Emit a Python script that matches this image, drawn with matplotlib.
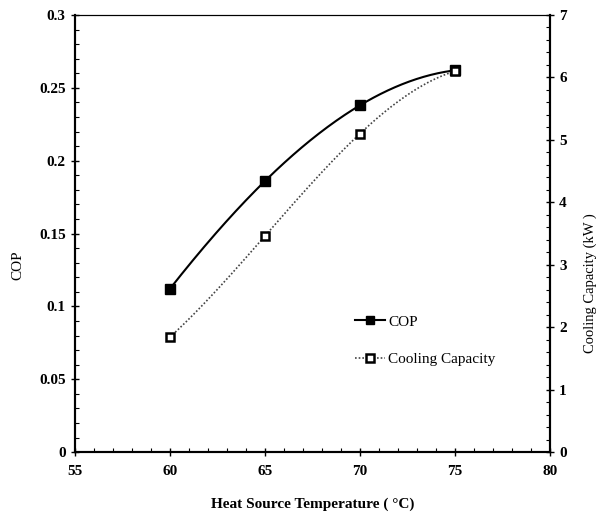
import numpy as np
import matplotlib
matplotlib.use("Agg")
import matplotlib.pyplot as plt
from matplotlib.ticker import MultipleLocator
from matplotlib.lines import Line2D

temps = [60, 65, 70, 75]
cop = [0.112, 0.186, 0.238, 0.262]
cooling = [1.84, 3.46, 5.10, 6.10]

plt.rcParams['font.family'] = ['Liberation Serif', 'DejaVu Serif']

fig = plt.figure(figsize=(5.98, 5.15), dpi=100)
ax = fig.add_axes([0.125, 0.122, 0.795, 0.849])
ax2 = ax.twinx()

def smooth(x, y):
    c = np.polyfit(x, y, 3)
    xs = np.linspace(min(x), max(x), 200)
    return xs, np.polyval(c, xs)

xs, ys = smooth(temps, cop)
ax.plot(xs, ys, color='black', lw=1.5, zorder=3)
ax.plot(temps, cop, 's', color='black', ms=6.5, zorder=4)

xs2, ys2 = smooth(temps, cooling)
ax2.plot(xs2, ys2, color='#444444', lw=1.2, ls=(0, (1, 1.2)), zorder=3)
ax2.plot(temps, cooling, 's', mfc='white', mec='black', mew=1.8, ms=6, zorder=4)

ax.set_xlim(55, 80)
ax.set_ylim(0, 0.3)
ax2.set_ylim(0, 7)

ax.xaxis.set_major_locator(MultipleLocator(5))
ax.xaxis.set_minor_locator(MultipleLocator(1))
ax.yaxis.set_major_locator(MultipleLocator(0.05))
ax.yaxis.set_minor_locator(MultipleLocator(0.01))
ax2.yaxis.set_major_locator(MultipleLocator(1))
ax2.yaxis.set_minor_locator(MultipleLocator(0.2))

def fmt_left(v, p):
    if abs(v) < 1e-9:
        return '0'
    return ('%.2f' % v).rstrip('0').rstrip('.')
ax.yaxis.set_major_formatter(plt.FuncFormatter(fmt_left))

for a in (ax, ax2):
    a.tick_params(which='major', direction='inout', length=6, width=1.0, labelsize=11)
    a.tick_params(which='minor', direction='in', length=3, width=0.8)
    for lab in a.get_xticklabels() + a.get_yticklabels():
        lab.set_fontweight('bold')
ax.tick_params(axis='x', pad=6)

for s in ['left', 'bottom', 'right']:
    ax.spines[s].set_linewidth(1.5)
    ax2.spines[s].set_linewidth(1.5)
ax.spines['top'].set_linewidth(0.8)
ax2.spines['top'].set_linewidth(0.8)

ax.set_xlabel('Heat Source Temperature ( °C)', fontsize=11, fontweight='bold')
ax.xaxis.set_label_coords(0.5, -0.103)
ax.set_ylabel('COP', fontsize=11)
ax.yaxis.set_label_coords(-0.105, 0.428)
ax2.set_ylabel('Cooling Capacity (kW )', fontsize=10.5)
ax2.yaxis.set_label_coords(1.071, 0.387)

h1 = Line2D([], [], color='black', lw=1.5, marker='s', ms=6)
h2 = Line2D([], [], color='#444444', lw=1.2, ls=(0, (1, 1.2)), marker='s', mfc='white', mec='black', mew=1.8, ms=5.5)
ax.legend([h1, h2], ['COP', 'Cooling Capacity'], loc='upper left',
          bbox_to_anchor=(0.56, 0.345), frameon=False, fontsize=11,
          handlelength=2.0, handletextpad=0.2, labelspacing=1.55)

fig.savefig('out.png', dpi=100)
